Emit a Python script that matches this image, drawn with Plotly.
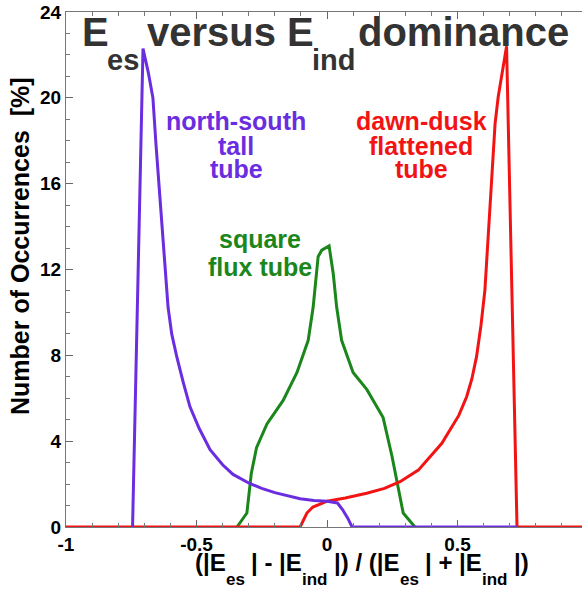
import plotly.graph_objects as go

# ---------------- data ----------------
ns_x = [-0.745, -0.705, -0.685, -0.667, -0.655, -0.647, -0.628, -0.609, -0.595, -0.575,
        -0.55, -0.525, -0.49, -0.448, -0.40, -0.36, -0.30, -0.25, -0.20, -0.15,
        -0.103, -0.05, 0.0, 0.04, 0.06, 0.08, 0.096, 0.73]
ns_y = [0.0, 22.3, 21.2, 20.0, 17.8, 16.5, 13.4, 10.25, 9.0, 7.9,
        6.7, 5.6, 4.6, 3.6, 2.9, 2.45, 2.05, 1.8, 1.6, 1.45,
        1.32, 1.24, 1.2, 1.12, 0.8, 0.4, 0.0, 0.0]

sq_x = [-0.345, -0.307, -0.29, -0.27, -0.23, -0.168, -0.115, -0.072, -0.053, -0.034,
        -0.02, 0.008, 0.024, 0.037, 0.056, 0.10, 0.153, 0.215, 0.249, 0.268, 0.292, 0.337]
sq_y = [0.0, 0.65, 2.5, 3.7, 4.8, 5.9, 7.2, 8.7, 10.25, 12.6,
        12.9, 13.1, 11.8, 10.25, 8.7, 7.2, 6.4, 5.1, 3.3, 2.05, 0.65, 0.0]

dd_x = [-1.0, -0.103, -0.077, -0.054, -0.015, 0.0, 0.07, 0.152, 0.22, 0.28, 0.35, 0.407,
        0.44, 0.471, 0.505, 0.535, 0.555, 0.573, 0.59, 0.605, 0.625, 0.644, 0.656,
        0.688, 0.728, 1.0]
dd_y = [0.0, 0.0, 0.65, 0.93, 1.12, 1.2, 1.35, 1.57, 1.8, 2.11, 2.65, 3.43,
        3.9, 4.52, 5.2, 6.07, 6.9, 7.94, 9.4, 11.04, 14.9, 18.8, 20.05,
        22.4, 0.0, 0.0]

x_tick_vals = [-1, -0.5, 0, 0.5, 1]
x_tick_text = ["-1", "-0.5", "0", "0.5", "1"]
y_tick_vals = [0, 4, 8, 12, 16, 20, 24]
y_tick_text = ["0", "4", "8", "12", "16", "20", "24"]

PURPLE = "#6a2de0"
GREEN = "#1b861b"
RED = "#f21414"
DARK = "#333333"
FONT = "Liberation Sans"

# ---------------- layout geometry (pixels) ----------------
W, H = 582, 589
L, T, B, R = 66, 12, 527, 582
X_LO = -1.0
X_HI = -1.0 + 2.0 * (R - L) / (588 - L)   # right frame edge lies just outside the window


def pxx(p):
    return (p - L) / (R - L)


def pxy(p):
    return (B - p) / (B - T)


annots = []


def label(text, x, baseline, size, color, anchor="left", angle=0):
    if angle == 0:
        yc = baseline - 0.3465 * size
        annots.append(dict(text=text, x=pxx(x), y=pxy(yc), xref="paper", yref="paper",
                           xanchor=anchor, yanchor="middle", showarrow=False,
                           font=dict(family=FONT, size=size, color=color, weight="bold")))
    else:
        annots.append(dict(text=text, x=pxx(x), y=pxy(baseline), xref="paper", yref="paper",
                           xanchor="center", yanchor="middle", showarrow=False, textangle=angle,
                           font=dict(family=FONT, size=size, color=color, weight="bold")))


# title pieces
label("E", 80, 46, 40, DARK)
label("es", 105, 70, 29, DARK)
label("versus E", 145, 46, 40, DARK)
label("ind", 310, 70, 29, DARK)
label("dominance", 356, 46, 40, DARK)

# curve labels
for t, b in [("north-south", 130), ("tall", 155), ("tube", 178)]:
    label(t, 236, b, 25, PURPLE, anchor="center")
for t, b in [("dawn-dusk", 130), ("flattened", 155), ("tube", 178)]:
    label(t, 421, b, 25, RED, anchor="center")
for t, b in [("square", 248), ("flux tube", 276)]:
    label(t, 260, b, 25, GREEN, anchor="center")

# y axis title
label("Number of Occurrences  [%]", 20, 246, 25, "black", angle=-90)

# x axis title, built from pieces with Arial-Bold metrics
W_ARIAL_B = {" ": 278, "(": 333, ")": 333, "|": 280, "E": 667, "s": 556, "e": 556,
             "i": 278, "n": 611, "d": 611, "-": 333, "/": 278, "+": 584}


def width(s, size):
    return sum(W_ARIAL_B.get(c, 556) for c in s) * size / 1000.0


pieces = [("(|E", 0), ("es", 1), (" | - |E", 0), ("ind", 1), (" |) / (|E", 0),
          ("es", 1), (" | + |E", 0), ("ind", 1), (" |)", 0)]
MAIN, SUB = 24, 17
cx = 194
for s, is_sub in pieces:
    size = SUB if is_sub else MAIN
    lead = len(s) - len(s.lstrip(" "))
    start = cx + width(s[:lead], size)
    label(s.strip(" "), start - 1, 585 if is_sub else 571, size, "black")
    cx += width(s, size)

fig = go.Figure()
fig.add_trace(go.Scatter(x=sq_x, y=sq_y, mode="lines", line=dict(color=GREEN, width=3),
                         showlegend=False, hoverinfo="skip"))
fig.add_trace(go.Scatter(x=dd_x, y=dd_y, mode="lines", line=dict(color=RED, width=3),
                         showlegend=False, hoverinfo="skip"))
fig.add_trace(go.Scatter(x=ns_x, y=ns_y, mode="lines", line=dict(color=PURPLE, width=3),
                         showlegend=False, hoverinfo="skip"))

fig.update_layout(
    width=W, height=H,
    margin=dict(l=L, r=W - R, t=T, b=H - B, pad=0),
    paper_bgcolor="white", plot_bgcolor="white",
    annotations=annots,
    showlegend=False,
)
fig.update_xaxes(range=[X_LO, X_HI], tickvals=x_tick_vals, ticktext=x_tick_text,
                 ticks="inside", ticklen=7, tickcolor="#666", showline=True, linecolor="#777",
                 linewidth=1, mirror="ticks", showgrid=False, zeroline=False,
                 minor=dict(dtick=0.1, tick0=-1, ticks="inside", ticklen=4, tickcolor="#777"),
                 tickfont=dict(family=FONT, size=19, color="black", weight="bold"))
fig.update_yaxes(range=[0, 24], tickvals=y_tick_vals, ticktext=y_tick_text,
                 ticks="inside", ticklen=7, tickcolor="#666", showline=True, linecolor="#777",
                 linewidth=1, showgrid=False, zeroline=False,
                 minor=dict(dtick=1, tick0=0, ticks="inside", ticklen=4, tickcolor="#777"),
                 tickfont=dict(family=FONT, size=19, color="black", weight="bold"))

fig.write_html("out.html")
